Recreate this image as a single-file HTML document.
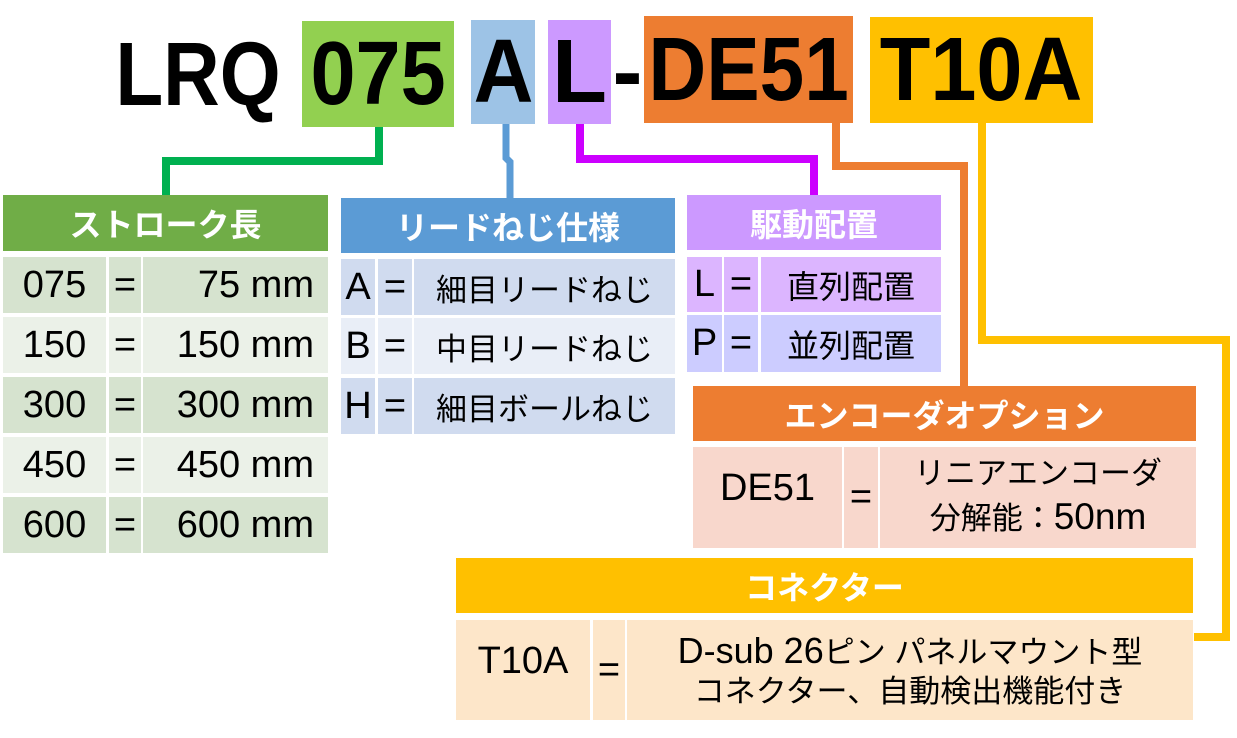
<!DOCTYPE html>
<html><head><meta charset="utf-8"><style>
body{margin:0;width:1237px;height:738px;background:#fff;position:relative;overflow:hidden;font-family:"Liberation Sans","Noto Sans CJK JP",sans-serif;}
.b{position:absolute;display:flex;align-items:center;justify-content:center;box-sizing:border-box;white-space:nowrap;}
.big{font-weight:bold;font-size:90px;color:#000;line-height:1;}
.big span{display:inline-block;}
.h{color:#fff;font-weight:bold;font-size:32px;}
.c{font-size:38px;color:#000;}
.j{font-size:31px;}
.l{position:absolute;}
</style></head><body>
<!-- top code -->
<div class="b big" style="left:108px;top:22px;width:180px;height:106px;"><span style="transform:scaleX(0.87)">LRQ</span></div>
<div class="b big" style="left:302px;top:21px;width:152px;height:106px;background:#92d050;"><span style="transform:scaleX(0.9)">075</span></div>
<div class="b big" style="left:471px;top:20px;width:64px;height:104px;background:#9dc3e6;"><span style="transform:scaleX(0.92)">A</span></div>
<div class="b big" style="left:548px;top:20px;width:63px;height:104px;background:#cc99ff;">L</div>
<div class="b big" style="left:611px;top:20px;width:33px;height:104px;">-</div>
<div class="b big" style="left:644px;top:16px;width:209px;height:107px;background:#ed7d31;"><span style="transform:scaleX(0.89)">DE51</span></div>
<div class="b big" style="left:870px;top:17px;width:223px;height:106px;background:#ffc000;"><span style="transform:scaleX(0.92)">T10A</span></div>

<!-- connectors -->
<svg class="l" style="left:0;top:0" width="1237" height="738">
<polyline points="379,127 379,161 166,161 166,196" fill="none" stroke="#00b050" stroke-width="8"/>
<polyline points="506,124 506,158 510,162 510,198" fill="none" stroke="#5b9bd5" stroke-width="7"/>
<polyline points="580,124 580,159 814,159 814,195" fill="none" stroke="#cc00ff" stroke-width="8"/>
<polyline points="836,123 836,166 964,166 964,386" fill="none" stroke="#ed7d31" stroke-width="8"/>
<polyline points="982,123 982,340 1226,340 1226,637 1194,637" fill="none" stroke="#ffc000" stroke-width="8"/>
</svg>

<!-- stroke table -->
<div class="b h" style="left:3px;top:195px;width:325px;height:56px;background:#70ad47;">ストローク長</div>
<div class="b c" style="left:3px;top:257px;width:103px;height:56px;background:#d6e3cf;">075</div>
<div class="b c" style="left:109px;top:257px;width:32px;height:56px;background:#d6e3cf;">=</div>
<div class="b c" style="left:143px;top:257px;width:185px;height:56px;background:#d6e3cf;justify-content:flex-end;padding-right:14px;">75 mm</div>
<div class="b c" style="left:3px;top:317px;width:103px;height:56px;background:#ebf1e8;">150</div>
<div class="b c" style="left:109px;top:317px;width:32px;height:56px;background:#ebf1e8;">=</div>
<div class="b c" style="left:143px;top:317px;width:185px;height:56px;background:#ebf1e8;justify-content:flex-end;padding-right:14px;">150 mm</div>
<div class="b c" style="left:3px;top:377px;width:103px;height:56px;background:#d6e3cf;">300</div>
<div class="b c" style="left:109px;top:377px;width:32px;height:56px;background:#d6e3cf;">=</div>
<div class="b c" style="left:143px;top:377px;width:185px;height:56px;background:#d6e3cf;justify-content:flex-end;padding-right:14px;">300 mm</div>
<div class="b c" style="left:3px;top:437px;width:103px;height:56px;background:#ebf1e8;">450</div>
<div class="b c" style="left:109px;top:437px;width:32px;height:56px;background:#ebf1e8;">=</div>
<div class="b c" style="left:143px;top:437px;width:185px;height:56px;background:#ebf1e8;justify-content:flex-end;padding-right:14px;">450 mm</div>
<div class="b c" style="left:3px;top:497px;width:103px;height:56px;background:#d6e3cf;">600</div>
<div class="b c" style="left:109px;top:497px;width:32px;height:56px;background:#d6e3cf;">=</div>
<div class="b c" style="left:143px;top:497px;width:185px;height:56px;background:#d6e3cf;justify-content:flex-end;padding-right:14px;">600 mm</div>

<!-- lead table -->
<div class="b h" style="left:341px;top:198px;width:334px;height:55px;background:#5b9bd5;">リードねじ仕様</div>
<div class="b c" style="left:341px;top:259px;width:34px;height:56px;background:#d0dbef;">A</div>
<div class="b c" style="left:378px;top:259px;width:34px;height:56px;background:#d0dbef;">=</div>
<div class="b c j" style="left:414px;top:259px;width:261px;height:56px;background:#d0dbef;">細目リードねじ</div>
<div class="b c" style="left:341px;top:318px;width:34px;height:56px;background:#e9eef7;">B</div>
<div class="b c" style="left:378px;top:318px;width:34px;height:56px;background:#e9eef7;">=</div>
<div class="b c j" style="left:414px;top:318px;width:261px;height:56px;background:#e9eef7;">中目リードねじ</div>
<div class="b c" style="left:341px;top:378px;width:34px;height:56px;background:#d0dbef;">H</div>
<div class="b c" style="left:378px;top:378px;width:34px;height:56px;background:#d0dbef;">=</div>
<div class="b c j" style="left:414px;top:378px;width:261px;height:56px;background:#d0dbef;">細目ボールねじ</div>

<!-- drive table -->
<div class="b h" style="left:687px;top:195px;width:254px;height:55px;background:#cc99ff;">駆動配置</div>
<div class="b c" style="left:687px;top:257px;width:35px;height:55px;background:#dcb5ff;">L</div>
<div class="b c" style="left:724px;top:257px;width:34px;height:55px;background:#dcb5ff;">=</div>
<div class="b c j" style="left:761px;top:257px;width:180px;height:55px;background:#dcb5ff;font-size:32px;">直列配置</div>
<div class="b c" style="left:687px;top:315px;width:35px;height:57px;background:#ccccff;">P</div>
<div class="b c" style="left:724px;top:315px;width:34px;height:57px;background:#ccccff;">=</div>
<div class="b c j" style="left:761px;top:315px;width:180px;height:57px;background:#ccccff;font-size:32px;">並列配置</div>

<!-- encoder -->
<div class="b h" style="left:693px;top:386px;width:503px;height:55px;background:#ed7d31;">エンコーダオプション</div>
<div class="b c" style="left:693px;top:447px;width:149px;height:101px;background:#f8d7cc;align-items:flex-start;padding-top:20px;">DE51</div>
<div class="b c" style="left:844px;top:447px;width:34px;height:101px;background:#f8d7cc;">=</div>
<div class="b c" style="left:880px;top:447px;width:316px;height:101px;background:#f8d7cc;flex-direction:column;line-height:1.25;font-size:31px;"><div>リニアエンコーダ</div><div>分解能：<span style="font-size:37px">50nm</span></div></div>

<!-- connector -->
<div class="b h" style="left:456px;top:558px;width:737px;height:55px;background:#ffc000;">コネクター</div>
<div class="b c" style="left:456px;top:620px;width:134px;height:100px;background:#fde6c9;align-items:flex-start;padding-top:20px;">T10A</div>
<div class="b c" style="left:593px;top:620px;width:32px;height:100px;background:#fde6c9;">=</div>
<div class="b c" style="left:627px;top:620px;width:566px;height:100px;background:#fde6c9;flex-direction:column;line-height:1.25;font-size:31px;"><div><span style="font-size:36px">D-sub 26</span>ピン パネルマウント型</div><div>コネクター、自動検出機能付き</div></div>
</body></html>
